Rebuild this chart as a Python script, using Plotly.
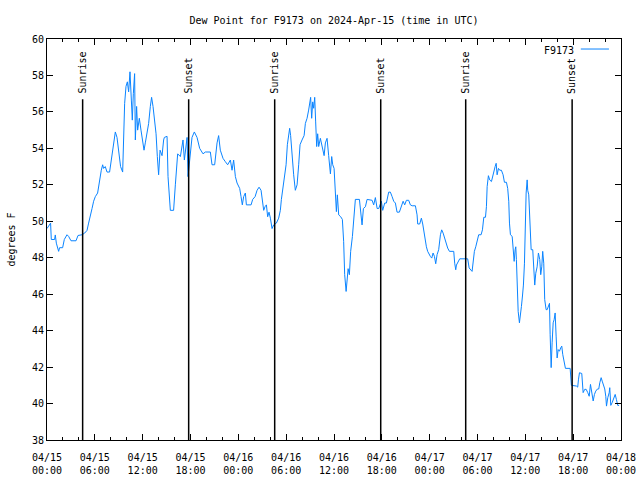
import pandas as pd
import plotly.graph_objects as go

# ---- data (hours since 2024-04-15 00:00 UTC, dew point in F) ----
hours = [0.00, 0.45, 0.54, 0.95, 1.04, 1.17, 1.46, 1.58, 1.96, 2.17, 2.51, 2.71, 3.01, 3.64, 3.89, 4.39,
         4.72, 5.02, 5.22, 5.43, 5.65, 5.85, 6.06, 6.35, 6.60, 6.81, 6.98, 7.10, 7.31, 7.53, 7.85, 8.07,
         8.28, 8.57, 8.78, 8.98, 9.23, 9.49, 9.61, 9.74, 9.91, 10.08, 10.24, 10.41, 10.58, 10.70, 10.83,
         10.99, 11.08, 11.24, 11.37, 11.58, 11.79, 12.00, 12.17, 12.33, 12.55, 12.75, 12.96, 13.12, 13.30,
         13.46, 13.68, 13.84, 14.00, 14.18, 14.43, 14.63, 14.72, 15.06, 15.18, 15.47, 15.88, 16.10, 16.39,
         16.73, 17.06, 17.23, 17.57, 17.69, 17.98, 18.19, 18.48, 18.82, 19.15, 19.57, 19.86, 20.49, 20.70,
         21.03, 21.33, 21.53, 21.74, 22.08, 22.37, 22.66, 23.00, 23.21, 23.41, 23.63, 23.84, 24.17, 24.34,
         24.50, 24.67, 24.88, 25.01, 25.60, 25.80, 26.10, 26.35, 26.60, 26.85, 27.05, 27.18, 27.35, 27.52,
         27.68, 27.85, 28.02, 28.23, 28.43, 28.77, 29.06, 29.27, 29.40, 29.56, 29.77, 29.99, 30.15, 30.31,
         30.44, 30.56, 30.74, 30.94, 31.15, 31.37, 31.57, 31.74, 31.99, 32.25, 32.41, 32.62, 32.82, 33.00,
         33.07, 33.20, 33.33, 33.45, 33.58, 33.70, 33.83, 33.95, 34.08, 34.29, 34.50, 34.76, 34.92, 35.13,
         35.33, 35.55, 35.71, 35.84, 36.01, 36.17, 36.30, 36.42, 36.59, 36.84, 37.05, 37.21, 37.34, 37.52,
         37.64, 37.77, 37.93, 38.09, 38.31, 38.47, 38.68, 39.19, 39.35, 39.52, 39.69, 39.94, 40.15, 40.78,
         40.98, 41.19, 41.41, 41.61, 41.94, 42.11, 42.36, 42.57, 42.86, 43.07, 43.29, 43.49, 43.70, 43.91,
         44.20, 44.45, 44.67, 44.87, 45.08, 45.37, 45.58, 45.80, 46.21, 46.42, 46.50, 46.75, 46.96, 47.13,
         47.25, 47.43, 47.59, 47.75, 47.93, 48.09, 48.26, 48.43, 48.60, 48.76, 48.93, 49.13, 49.35, 49.51,
         49.69, 49.85, 50.06, 50.26, 50.48, 51.02, 51.14, 51.27, 51.36, 51.57, 51.77, 52.77, 52.95, 53.32,
         53.45, 53.61, 53.78, 53.95, 54.15, 54.45, 54.62, 54.79, 55.00, 55.12, 55.21, 55.37, 55.53, 55.75,
         55.87, 56.04, 56.21, 56.34, 56.46, 56.63, 56.79, 57.00, 57.21, 57.38, 57.63, 57.79, 57.92, 58.01,
         58.13, 58.35, 58.47, 58.60, 58.72, 58.80, 58.88, 58.97, 59.10, 59.26, 59.39, 59.51, 59.64, 59.76,
         59.89, 59.97, 60.10, 60.23, 60.30, 60.43, 60.55, 60.73, 60.93, 61.05, 61.18, 61.31, 61.48, 61.64,
         61.81, 61.93, 62.06, 62.18, 62.31, 62.43, 62.61, 62.74, 62.86, 63.03, 63.11, 63.24, 63.36, 63.49,
         63.61, 63.74, 63.86, 63.99, 64.12, 64.28, 64.44, 64.57, 64.69, 64.87, 65.03, 65.62, 65.75, 65.78,
         66.41, 66.57, 66.66, 66.79, 67.08, 67.16, 67.25, 67.45, 67.63, 67.83, 68.01, 68.17, 68.29, 68.42,
         68.51, 68.67, 68.83, 69.05, 69.21, 69.34, 69.51, 69.64, 69.80, 69.96, 70.09, 70.18, 70.34, 70.52,
         70.59, 70.72, 70.89, 71.09, 71.27, 71.42, 71.59, 71.76]

dewpoint = [49.6, 49.9, 49.0, 49.0, 49.25, 48.8, 48.35, 48.55, 48.55, 49.0, 49.26, 49.17, 48.93, 48.93, 49.22, 49.26,
            49.35, 49.5, 49.9, 50.4, 50.7, 51.1, 51.35, 51.55, 52.36, 52.8, 53.1, 52.9, 53.0, 52.7, 52.7, 53.36,
            53.9, 54.9, 54.6, 53.7, 53.0, 52.7, 54.46, 56.47, 57.4, 57.65, 57.1, 58.2, 56.65, 55.55, 57.0,
            58.1, 54.46, 56.3, 55.0, 55.65, 55.0, 54.46, 53.9, 54.3, 54.8, 55.37, 56.3, 56.8, 56.3,
            55.55, 54.8, 53.55, 52.55, 53.9, 53.6, 54.46, 54.6, 54.66, 52.45, 50.6, 50.6, 52.0, 53.7,
            53.55, 54.46, 53.36, 54.6, 52.45, 53.7, 54.6, 54.9, 54.6, 54.0, 53.7, 53.8, 53.8, 53.1,
            53.1, 54.3, 54.7, 53.9, 53.45, 53.27, 53.1, 53.36, 52.8, 53.36, 52.45, 52.1, 51.8, 51.35,
            50.9, 51.35, 51.55, 50.9, 50.9, 51.2, 51.35, 51.7, 51.87, 51.7, 51.1, 50.6, 50.8, 50.9,
            50.25, 50.5, 50.17, 49.6, 49.8, 49.9, 50.17, 50.6, 51.2, 51.7, 52.45, 53.1, 54.2, 54.6,
            55.1, 54.7, 53.6, 52.55, 51.7, 52.0, 53.1, 54.2, 54.46, 54.7, 55.37, 55.65, 56.1, 56.55,
            56.8, 55.65, 56.55, 56.2, 56.8, 55.45, 54.1, 54.8, 54.1, 54.55, 54.1, 53.6, 54.3, 54.55,
            53.6, 52.6, 53.55, 53.1, 52.9, 51.55, 50.53, 51.45, 50.35, 50.25, 50.1, 48.9, 47.07, 46.15,
            47.07, 47.4, 47.07, 48.35, 49.17, 49.9, 51.2, 51.2, 50.25, 49.8, 50.7, 50.8, 51.2, 51.15,
            50.9, 51.3, 50.7, 50.7, 51.1, 50.6, 51.0, 51.0, 51.6, 51.6, 51.35, 51.1, 51.0, 50.5,
            50.5, 50.8, 51.1, 50.9, 51.15, 51.15, 50.9, 50.85, 50.85, 50.35, 49.85, 49.85, 50.17, 49.85,
            49.45, 49.1, 48.6, 48.35, 48.17, 48.07, 47.98, 48.26, 48.07, 47.67, 48.17, 48.44, 49.26, 49.53,
            49.35, 49.1, 48.8, 48.53, 48.35, 48.35, 47.7, 47.34, 47.6, 47.8, 47.94, 47.94, 47.44, 47.25,
            47.98, 48.35, 48.6, 48.98, 49.26, 49.26, 49.53, 50.22, 50.22, 50.8, 51.9, 52.5, 52.27, 52.18,
            52.45, 52.8, 53.0, 53.18, 52.55, 52.9, 52.8, 52.8, 52.55, 52.14, 52.14, 51.8, 51.1, 49.9,
            49.26, 49.17, 48.17, 47.8, 48.44, 48.6, 47.9, 46.07, 45.06, 44.43, 45.15, 45.33, 45.9, 46.5,
            47.7, 49.7, 51.55, 52.27, 51.7, 51.45, 49.9, 48.44, 48.44, 47.5, 46.5, 47.15, 47.5, 48.26,
            47.9, 47.07, 47.5, 48.35, 47.7, 45.7, 45.15, 45.15, 45.33, 45.5, 43.8, 41.97, 43.33, 44.43,
            44.6, 44.97, 43.7, 42.5, 42.96, 42.87, 43.06, 43.15, 42.7, 42.33, 41.93, 41.93, 41.42, 41.0,
            40.96, 40.9, 41.3, 41.69, 41.65, 41.05, 40.6, 40.78, 40.78, 40.6, 40.4, 41.05, 40.78, 40.45,
            40.14, 40.5, 40.68, 40.8, 40.8, 41.14, 41.42, 41.23, 40.96, 40.8, 40.4, 39.86, 40.32, 40.6,
            40.87, 39.9, 40.05, 40.27, 40.5, 40.23, 39.9, 39.9]

sun_labels = ["Sunrise", "Sunset", "Sunrise", "Sunset", "Sunrise", "Sunset"]
sun_hours = [4.47, 17.77, 28.56, 41.86, 52.52, 65.87]

tick_hours = [0, 6, 12, 18, 24, 30, 36, 42, 48, 54, 60, 66, 72]
tick_labels = ["04/15<br>00:00", "04/15<br>06:00", "04/15<br>12:00", "04/15<br>18:00",
               "04/16<br>00:00", "04/16<br>06:00", "04/16<br>12:00", "04/16<br>18:00",
               "04/17<br>00:00", "04/17<br>06:00", "04/17<br>12:00", "04/17<br>18:00",
               "04/18<br>00:00"]
series_name = "F9173"

base = pd.Timestamp("2024-04-15 00:00")
to_t = lambda h: base + pd.Timedelta(hours=h)
times = [to_t(h) for h in hours]

FONT = "DejaVu Sans Mono"
FS = 10
LINE_COLOR = "#0a84ff"

fig = go.Figure()
fig.add_trace(go.Scatter(x=times, y=dewpoint, mode="lines", name=series_name,
                         line=dict(color=LINE_COLOR, width=1), showlegend=False))

for lab, h in zip(sun_labels, sun_hours):
    fig.add_shape(type="line", xref="x", yref="paper", x0=to_t(h), x1=to_t(h), y0=0, y1=0.85,
                  line=dict(color="black", width=1.5))
    fig.add_annotation(x=to_t(h), y=0.858, xref="x", yref="paper", text=lab, textangle=-90,
                       showarrow=False, xanchor="center", yanchor="bottom",
                       font=dict(family=FONT, size=FS, color="black"))

# legend (gnuplot style: text then line sample)
fig.add_annotation(x=0.922, y=0.972, xref="paper", yref="paper", text=series_name, showarrow=False,
                   xanchor="right", yanchor="middle", font=dict(family=FONT, size=FS, color="black"))
fig.add_shape(type="line", xref="paper", yref="paper", x0=0.930, x1=0.979, y0=0.975, y1=0.975,
              line=dict(color=LINE_COLOR, width=1))

fig.update_layout(
    width=640, height=480,
    margin=dict(l=47, r=19, t=39, b=40, autoexpand=False),
    paper_bgcolor="white", plot_bgcolor="white",
    title=dict(text="Dew Point for F9173 on 2024-Apr-15 (time in UTC)", x=0.5, xref="paper",
               xanchor="center", y=0.958, yanchor="middle",
               font=dict(family=FONT, size=FS, color="black")),
    font=dict(family=FONT, size=FS, color="black"),
    xaxis=dict(range=[to_t(0), to_t(72)], tickvals=[to_t(h) for h in tick_hours], ticktext=tick_labels,
               ticks="inside", ticklen=6, tickcolor="black", showline=True, linecolor="black",
               linewidth=1, mirror="ticks", showgrid=False, zeroline=False,
               tickfont=dict(family=FONT, size=FS), ticklabelstandoff=8,
               minor=dict(dtick=2 * 3600 * 1000, tick0=to_t(0), ticks="inside", ticklen=3,
                          tickcolor="black", showgrid=False)),
    yaxis=dict(range=[38, 60], dtick=2, tick0=38, ticks="inside", ticklen=6, tickcolor="black",
               showline=True, linecolor="black", linewidth=1, mirror="ticks", showgrid=False,
               zeroline=False, tickfont=dict(family=FONT, size=FS),
               title=dict(text="degrees F", font=dict(family=FONT, size=FS), standoff=14)),
)

fig.write_html("out.html")
